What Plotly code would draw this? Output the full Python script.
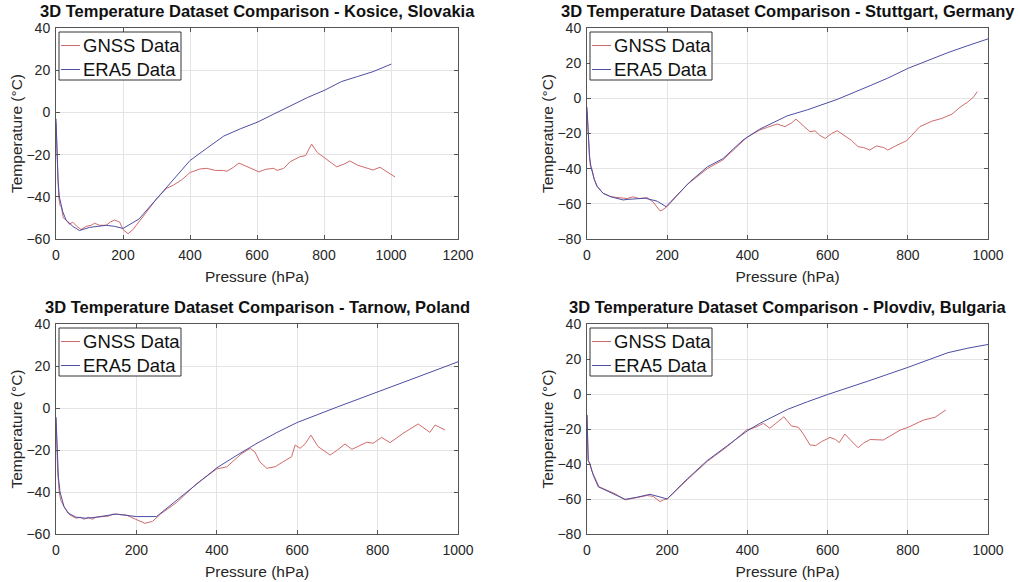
import plotly.graph_objects as go

# ---- Kosice, Slovakia ----
kosice_gnss_p = [0, 4, 8, 12, 16, 22, 30, 40, 50, 62, 75, 90, 105, 115, 130, 150, 162, 175, 190, 200,
                 215, 230, 250, 275, 300, 330, 350, 375, 400, 430, 450, 475, 500, 510, 530, 546, 575, 606,
                 625, 650, 660, 680, 698, 728, 745, 763, 780, 810, 838, 860, 877, 900, 946, 967, 990, 1012]
kosice_gnss_t = [-5, -28, -40, -44, -45, -50, -51, -53, -52, -54, -55.5, -54, -53.5, -52.5, -53.5, -53.5, -52, -51, -52, -55.5,
                 -57.5, -55.5, -51.5, -46.5, -41, -36, -34.5, -32, -28.5, -26.8, -26.5, -27.5, -27.5, -27.9, -26, -24, -26, -28.2,
                 -27, -26.5, -27.5, -26.5, -23.5, -21, -20.5, -15, -19, -22.5, -25.8, -24.5, -23, -25, -27.3, -26, -28.5, -30.6]
kosice_era5_p = [0, 3, 6, 10, 20, 30, 50, 70, 100, 125, 150, 175, 200, 248, 300, 350, 400, 450, 501, 550,
                 603, 650, 700, 750, 803, 852, 900, 946, 1001]
kosice_era5_t = [-3, -20, -32, -40, -47, -51, -54, -56, -54.5, -54, -53.5, -54, -55, -50.5, -41, -32, -22.8, -17, -11.2, -7.8,
                 -4.5, -0.8, 3.2, 7, 10.6, 14.6, 17, 19.3, 22.9]

# ---- Stuttgart, Germany ----
stuttgart_gnss_p = [0, 4, 8, 12, 18, 25, 40, 60, 80, 100, 115, 130, 150, 165, 182, 188, 200, 225, 250, 300,
                    339, 400, 431, 450, 474, 494, 510, 521, 540, 556, 569, 580, 594, 610, 624, 648, 660, 676,
                    690, 705, 722, 740, 750, 770, 797, 810, 830, 860, 885, 910, 930, 950, 965, 973]
stuttgart_gnss_t = [-8, -25, -38, -40, -46, -50, -54, -56, -56.5, -57, -56, -57, -56.5, -59, -64, -63.5, -61.5, -55, -49, -40,
                    -35, -22, -18, -16.5, -14.6, -16.1, -14, -11.8, -16, -19, -18.5, -21, -22.8, -20, -18.4, -21.8, -24, -27.5,
                    -28, -29.4, -27.1, -28, -29.4, -27, -24.1, -21, -16.1, -13, -11.4, -9, -5.1, -2, 1, 3.8]
stuttgart_era5_p = [0, 3, 6, 10, 18, 25, 40, 60, 90, 100, 125, 145, 175, 197, 257, 300, 339, 389, 431, 450,
                    499, 550, 600, 624, 706, 750, 800, 850, 900, 950, 1000]
stuttgart_era5_t = [-5, -20, -33, -39, -46, -50, -54, -56, -57.8, -57.5, -57, -56.8, -58.5, -61.6, -47.4, -39, -34.3, -23.7, -17.5, -15.5,
                    -10, -6.5, -2.5, -0.6, 7.2, 11.5, 17, 21.5, 26, 30, 33.8]

# ---- Tarnow, Poland ----
tarnow_gnss_p = [0, 4, 8, 12, 20, 35, 50, 60, 70, 80, 90, 100, 130, 142, 175, 200, 221, 240, 260, 300,
                 350, 400, 425, 460, 483, 495, 507, 524, 545, 565, 586, 595, 607, 620, 634, 652, 682, 700,
                 719, 736, 773, 789, 810, 831, 864, 901, 930, 943, 968]
tarnow_gnss_t = [-5, -30, -40, -44, -47, -51, -52.5, -52, -53, -52, -53, -52, -51.5, -50.5, -51, -53, -54.9, -54, -50.5, -45,
                 -36, -29, -28, -22, -19.2, -21, -25.6, -28.7, -28, -25.6, -23.2, -17.6, -19.2, -17, -12.9, -18.4, -22.4, -20,
                 -17.1, -19.7, -16.3, -16.8, -14, -16.5, -12, -7.6, -11.6, -8.1, -10.5]
tarnow_era5_p = [0, 3, 6, 10, 20, 30, 50, 75, 100, 150, 200, 250, 300, 350, 400, 450, 483, 500, 550, 600,
                 700, 800, 900, 1000]
tarnow_era5_t = [-4.3, -20, -33, -40, -47, -50, -52, -52.5, -52, -50.5, -51.7, -51.7, -44, -36, -28.5, -22.5, -18.6, -16.8, -11.6, -6.9,
                 0.5, 7.5, 14.8, 22]

# ---- Plovdiv, Bulgaria ----
plovdiv_gnss_p = [0, 3, 7, 12, 18, 30, 50, 70, 95, 125, 150, 165, 175, 182, 190, 200, 250, 300, 350, 398,
                  420, 440, 456, 470, 491, 510, 527, 540, 556, 570, 585, 606, 620, 629, 643, 660, 676, 690,
                  706, 739, 781, 801, 839, 868, 895]
plovdiv_gnss_t = [-12, -38, -40, -44, -47, -53, -55, -57, -60.5, -59, -58, -58.5, -60, -61.5, -60.5, -60, -49, -38.5, -30, -20.5,
                  -19, -16.8, -19.6, -17, -13, -18.3, -19, -23, -29.1, -29.5, -27.2, -24.8, -26, -27.8, -22.9, -27, -30.7, -28,
                  -26, -26.3, -20.6, -19, -14.9, -13.3, -9.1]
plovdiv_era5_p = [0, 3, 7, 15, 28, 50, 75, 95, 125, 157, 194, 200, 250, 300, 350, 400, 431, 481, 500, 550,
                  600, 700, 800, 900, 950, 1000]
plovdiv_era5_t = [-12, -38, -39.6, -46, -53, -55.5, -58, -60.2, -59, -57.3, -59.6, -60, -48.5, -38, -29.5, -21, -16.8, -11, -8.8, -4.4,
                  -0.3, 7.3, 15.2, 23.6, 26.2, 28.3]

titles = [
    "3D Temperature Dataset Comparison - Kosice, Slovakia",
    "3D Temperature Dataset Comparison - Stuttgart, Germany",
    "3D Temperature Dataset Comparison - Tarnow, Poland",
    "3D Temperature Dataset Comparison - Plovdiv, Bulgaria",
]
legend_names = ["GNSS Data", "ERA5 Data"]
series = [
    (kosice_gnss_p, kosice_gnss_t, kosice_era5_p, kosice_era5_t),
    (stuttgart_gnss_p, stuttgart_gnss_t, stuttgart_era5_p, stuttgart_era5_t),
    (tarnow_gnss_p, tarnow_gnss_t, tarnow_era5_p, tarnow_era5_t),
    (plovdiv_gnss_p, plovdiv_gnss_t, plovdiv_era5_p, plovdiv_era5_t),
]
x_ranges = [[0, 1200], [0, 1000], [0, 1000], [0, 1000]]
y_ranges = [[-60, 40], [-80, 40], [-60, 40], [-80, 40]]

W, H = 1020, 582
# axes boxes in pixels: (left, right, top, bottom)
boxes = [(56, 458, 28, 239), (587, 988, 28, 239), (56, 458, 324, 534), (587, 988, 324, 534)]
title_y = [11, 11, 307, 307]

FONT = "Liberation Sans, Arial, sans-serif"
TXT = "#262626"
COLORS = ["#d06b6b", "#4d4da6"]


def px(x):
    return x / W


def py(y):
    return (H - y) / H


fig = go.Figure()
layout = dict(
    width=W, height=H, margin=dict(l=0, r=0, t=0, b=0),
    paper_bgcolor="white", plot_bgcolor="white",
    font=dict(family=FONT, color=TXT, size=14),
    showlegend=False, annotations=[], shapes=[],
)

for i, (gp, gt, ep, et) in enumerate(series):
    n = "" if i == 0 else str(i + 1)
    for (xs, ys), name, col in zip([(gp, gt), (ep, et)], legend_names, COLORS):
        fig.add_trace(go.Scatter(x=xs, y=ys, mode="lines", name=name,
                                 line=dict(color=col, width=1),
                                 xaxis="x" + n, yaxis="y" + n))
    l, r, t, b = boxes[i]
    common = dict(showline=True, linecolor="#555555", linewidth=1, mirror="ticks",
                  ticks="inside", ticklen=4, tickcolor="#555555", automargin=False,
                  showgrid=True, gridcolor="#e4e4e4", gridwidth=1, zeroline=False,
                  tickfont=dict(size=14, color=TXT, family=FONT))
    layout["xaxis" + n] = dict(common, domain=[px(l), px(r)], anchor="y" + n,
                               range=x_ranges[i], dtick=200, tick0=0, ticklabelstandoff=3,
                               title=dict(text="Pressure (hPa)", font=dict(size=15.5, color=TXT), standoff=9))
    layout["yaxis" + n] = dict(common, domain=[py(b), py(t)], anchor="x" + n,
                               range=y_ranges[i], dtick=20, tick0=0, ticklabelstandoff=2,
                               title=dict(text="Temperature (°C)", font=dict(size=15.5, color=TXT), standoff=0))
    # subplot title
    layout["annotations"].append(dict(
        text="<b>" + titles[i] + "</b>", x=px((l + r) / 2), y=py(title_y[i]),
        xref="paper", yref="paper", xanchor="center", yanchor="middle", showarrow=False,
        font=dict(size=16.5, color="#111111", family=FONT)))
    # legend box with line samples and labels
    bx0, by0, bx1, by1 = l + 3, t + 4, l + 125, t + 52
    layout["shapes"].append(dict(type="rect", xref="paper", yref="paper",
                                 x0=px(bx0), x1=px(bx1), y0=py(by1), y1=py(by0),
                                 line=dict(color="#333333", width=1), fillcolor="white", layer="above"))
    for k, (name, col) in enumerate(zip(legend_names, COLORS)):
        ry = by0 + 13.5 + 24 * k
        layout["shapes"].append(dict(type="line", xref="paper", yref="paper",
                                     x0=px(bx0 + 2), x1=px(bx0 + 21), y0=py(ry), y1=py(ry),
                                     line=dict(color=col, width=1), layer="above"))
        layout["annotations"].append(dict(
            text=name, x=px(bx0 + 22), y=py(ry), xref="paper", yref="paper",
            xanchor="left", yanchor="middle", showarrow=False,
            font=dict(size=18.5, color="#111111", family=FONT)))

fig.update_layout(**layout)
fig.write_html("out.html")
